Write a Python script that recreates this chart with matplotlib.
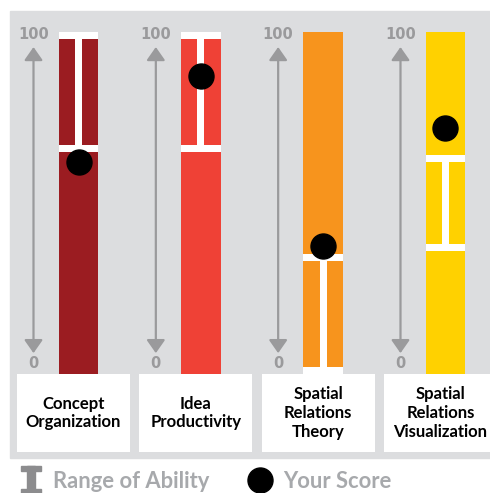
import numpy as np
import matplotlib
matplotlib.use("Agg")
import matplotlib.pyplot as plt
from matplotlib.patches import Rectangle

# data
categories = ["Concept\nOrganization", "Idea\nProductivity",
              "Spatial\nRelations\nTheory", "Spatial\nRelations\nVisualization"]
range_low = [65, 65, 0, 36]
range_high = [100, 100, 35, 64]
scores = [62, 87, 37.5, 72]
bar_colors = ["#9b1c21", "#ef4136", "#f7941d", "#ffd100"]

bg_gray = "#dcdddf"
arrow_gray = "#9a9a9c"
legend_gray = "#a7a9ac"
icon_gray = "#8c8c8e"

W, H = 490, 493
fig = plt.figure(figsize=(W / 100, H / 100), dpi=100)
fig.patch.set_facecolor("white")

# gray panel behind everything
fig.patches.append(Rectangle((10 / W, 1 - 458 / H), 1, (458 - 11) / H,
                             transform=fig.transFigure, color=bg_gray, zorder=-10))

# axes: 0..100 maps to pixel rows 374..32, categories spaced ~122 px
ax = fig.add_axes([0, 1 - 374 / H, 1, (374 - 32) / H])
ax.set_facecolor("none")
step = 122.33
ax.set_xlim(-78.5 / step, (W - 78.5) / step)
ax.set_ylim(0, 100)
ax.axis("off")

x = np.arange(len(categories))
bw = 39.5 / step
ax.bar(x, 100, width=bw, color=bar_colors, zorder=2)

cap = 2.1
stem_w = 7 / step
for i in range(len(categories)):
    lo, hi = range_low[i], range_high[i]
    ax.bar(x[i], cap, bottom=hi - cap, width=bw, color="white", zorder=3)
    ax.bar(x[i], cap, bottom=lo, width=bw, color="white", zorder=3)
    ax.bar(x[i], hi - lo, bottom=lo, width=stem_w, color="white", zorder=3)

ax.plot(x, scores, "o", color="black", markersize=18, zorder=4, clip_on=False)

# value axis arrows
ax_off = -45 / step
for i in range(len(categories)):
    xa = x[i] + ax_off
    ax.annotate("", xy=(xa, 95.6), xytext=(xa, 6.1),
                arrowprops=dict(arrowstyle="<|-|>,head_length=0.4,head_width=0.28",
                                mutation_scale=20, color=arrow_gray, lw=1.6,
                                shrinkA=0, shrinkB=0), zorder=1)
    ax.text(xa, 99.4, "100", ha="center", va="center", fontsize=10.5,
            fontweight="bold", color=arrow_gray, family="DejaVu Sans")
    ax.text(xa, 3.2, "0", ha="center", va="center", fontsize=10.5,
            fontweight="bold", color=arrow_gray, family="DejaVu Sans")

# category label boxes under the bars
box_off = -5 / step
box_w = 113 / step
box_bottom = -78 / 342 * 100
for i, name in enumerate(categories):
    ax.add_patch(Rectangle((x[i] + box_off - box_w / 2, box_bottom), box_w, -box_bottom,
                           facecolor="white", edgecolor="none", clip_on=False, zorder=2))
    ax.text(x[i] + box_off, box_bottom / 2, name, ha="center", va="center",
            fontsize=12, fontweight="bold", family="Lato", linespacing=1.2,
            color="black", clip_on=False, zorder=3)

# legend: range icon drawn as an I-beam
def fig_rect(x0, y0, x1, y1, color):
    fig.patches.append(Rectangle((x0 / W, 1 - y1 / H), (x1 - x0) / W, (y1 - y0) / H,
                                 transform=fig.transFigure, color=color))

fig_rect(21, 466, 41, 471, icon_gray)
fig_rect(27, 466, 35, 493, icon_gray)
fig_rect(21, 489, 41, 494, icon_gray)
fig.text(53 / W, 1 - 481 / H, "Range of Ability", ha="left", va="center",
         fontsize=15.8, fontweight="bold", family="Lato", color=legend_gray)
fig.lines.append(plt.Line2D([259.5 / W], [1 - 480 / H], marker="o", markersize=18,
                            color="black", transform=fig.transFigure))
fig.text(283 / W, 1 - 481 / H, "Your Score", ha="left", va="center",
         fontsize=15.8, fontweight="bold", family="Lato", color=legend_gray)

fig.savefig("out.png", dpi=100, facecolor="white")
